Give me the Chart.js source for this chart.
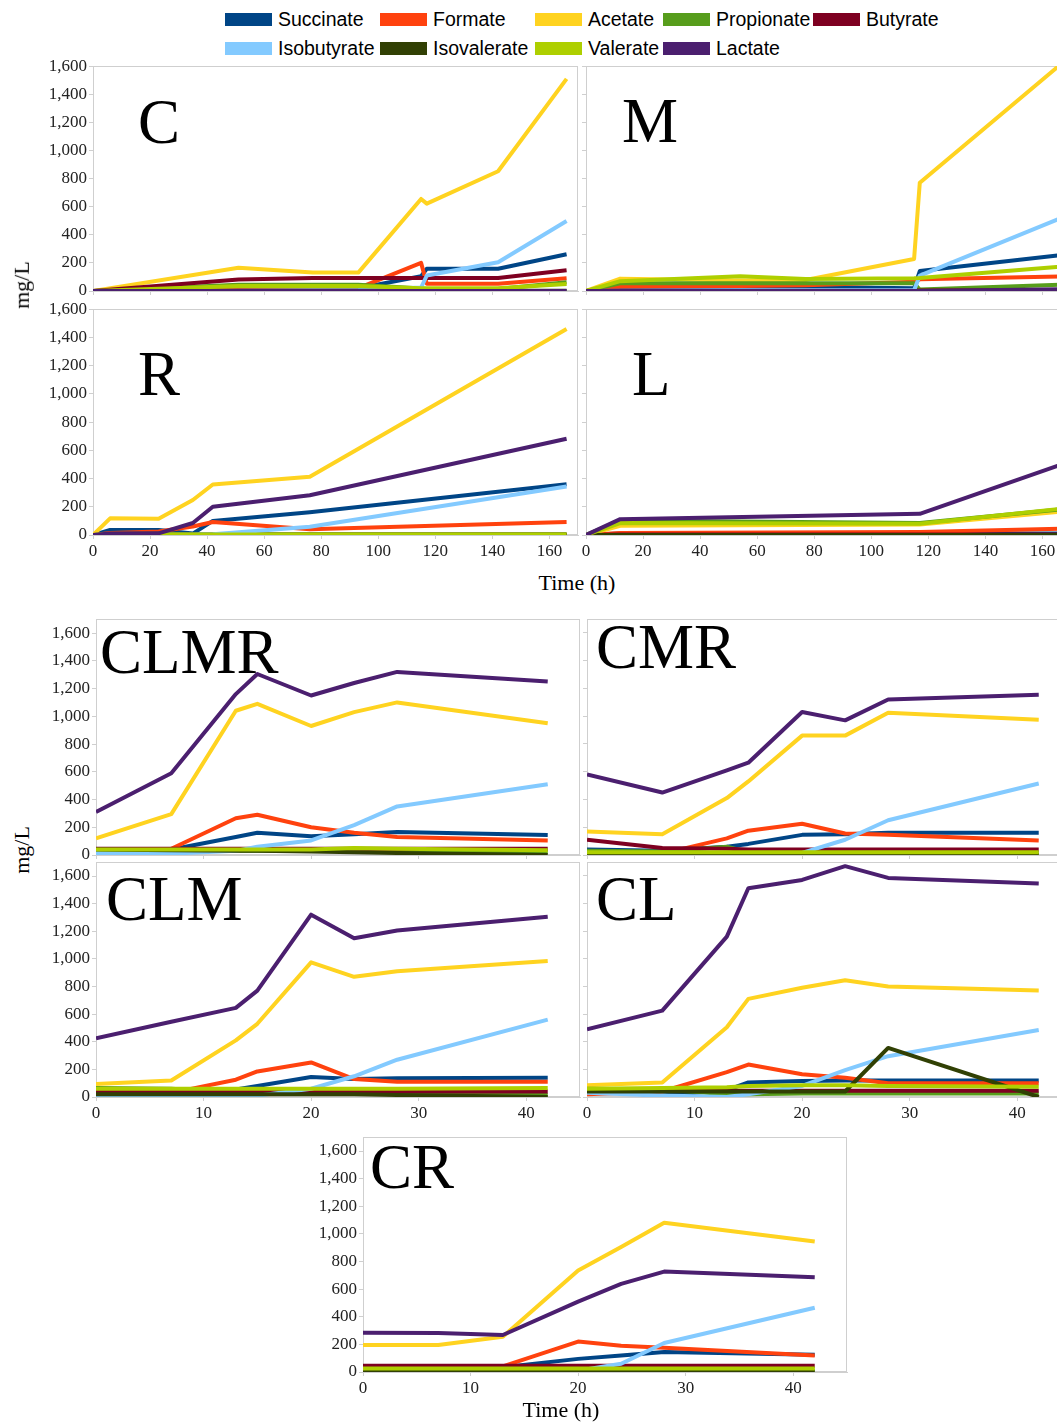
<!DOCTYPE html>
<html>
<head>
<meta charset="utf-8">
<script src="https://cdn.jsdelivr.net/npm/chart.js@4.4.1/dist/chart.umd.min.js"></script>
<style>
    html, body { margin: 0; padding: 0; background: #fff; }
    body { width: 1057px; height: 1423px; overflow: hidden; position: relative; }
    canvas { position: absolute; }
    .lbl { position: absolute; font-family: "Liberation Serif", "Times New Roman", serif; color: #000; white-space: nowrap; }
    .panel { font-size: 63px; line-height: 63px; }
    .axis { font-size: 22px; line-height: 22px; }
    .leg { position: absolute; font-family: "Liberation Sans", Arial, sans-serif; font-size: 19.5px; line-height: 20px; color: #000; white-space: nowrap; }
    .sw { position: absolute; width: 47px; height: 13px; }
</style>
</head>
<body>
<script>
// series, in LibreOffice legend order
const SERIES = ['Succinate', 'Formate', 'Acetate', 'Propionate', 'Butyrate',
                'Isobutyrate', 'Isovalerate', 'Valerate', 'Lactate'];
const COLORS = ['#004586', '#ff420e', '#ffd320', '#579d1c', '#7e0021',
                '#83caff', '#314004', '#aecf00', '#4b1f6f'];

// top group, time in h (0-170)
const C_TIME = [0, 51, 77, 93, 115, 117, 142, 166];
const C_VALUES = [
    [0, 15, 20, 20, 105, 158, 158, 262],
    [0, 10, 15, 20, 200, 52, 52, 90],
    [0, 166, 131, 131, 655, 622, 852, 1510],
    [0, 45, 45, 45, 18, 15, 15, 62],
    [0, 82, 92, 92, 92, 92, 92, 148],
    [0, 2, 5, 8, 25, 110, 205, 498],
    [0, 2, 2, 2, 2, 2, 2, 2],
    [0, 35, 35, 35, 20, 20, 20, 50],
    [0, 0, 0, 0, 0, 0, 0, 0]
];

const M_TIME = [0, 12, 54, 77, 115, 117, 166];
const M_VALUES = [
    [0, 28, 28, 28, 20, 142, 255],
    [0, 30, 35, 40, 66, 83, 103],
    [0, 88, 75, 78, 228, 770, 1605],
    [0, 55, 55, 55, 55, 10, 45],
    [0, 3, 3, 3, 3, 3, 5],
    [0, 2, 5, 5, 5, 110, 515],
    [0, 0, 0, 0, 0, 0, 0],
    [0, 70, 105, 85, 90, 92, 172],
    [0, 0, 0, 0, 0, 0, 12]
];

const R_TIME = [0, 6, 23, 35, 42, 76, 166];
const R_VALUES = [
    [0, 36, 36, 10, 100, 162, 360],
    [0, 15, 25, 60, 92, 40, 92],
    [0, 118, 115, 248, 358, 412, 1460],
    [0, 8, 8, 5, 5, 5, 5],
    [0, 2, 2, 2, 2, 2, 2],
    [0, 2, 2, 2, 5, 58, 343],
    [0, 0, 0, 0, 0, 0, 0],
    [0, 3, 3, 3, 3, 3, 3],
    [0, 10, 12, 85, 200, 282, 682]
];

const L_TIME = [0, 12, 117, 166];
const L_VALUES = [
    [0, 10, 10, 10],
    [0, 15, 22, 45],
    [0, 65, 75, 165],
    [0, 102, 85, 180],
    [0, 3, 3, 3],
    [0, 0, 0, 0],
    [0, 0, 0, 0],
    [0, 85, 80, 185],
    [0, 112, 150, 495]
];

// bottom group, time in h (0-45)
const CLMR_TIME = [0, 7, 13, 15, 20, 24, 28, 42];
const CLMR_VALUES = [
    [10, 40, 130, 160, 135, 150, 165, 145],
    [30, 45, 265, 290, 200, 160, 130, 105],
    [120, 295, 1040, 1090, 930, 1030, 1100, 950],
    [35, 30, 30, 30, 30, 30, 25, 20],
    [45, 45, 45, 45, 45, 45, 45, 45],
    [15, 10, 30, 60, 105, 215, 350, 510],
    [40, 35, 30, 30, 25, 20, 15, 0],
    [40, 40, 40, 40, 40, 50, 45, 35],
    [310, 590, 1160, 1305, 1150, 1240, 1320, 1250]
];

const CMR_TIME = [0, 7, 13, 15, 20, 24, 28, 42];
const CMR_VALUES = [
    [40, 30, 60, 80, 145, 150, 160, 160],
    [10, 10, 120, 175, 225, 155, 145, 105],
    [170, 150, 410, 530, 860, 860, 1025, 975],
    [30, 25, 60, 20, 20, 20, 20, 15],
    [110, 50, 45, 40, 40, 40, 40, 40],
    [5, 5, 5, 5, 15, 110, 250, 515],
    [15, 15, 15, 15, 15, 15, 10, 0],
    [20, 20, 20, 20, 20, 20, 20, 20],
    [580, 450, 610, 665, 1030, 970, 1120, 1155]
];

const CLM_TIME = [0, 7, 13, 15, 20, 24, 28, 42];
const CLM_VALUES = [
    [10, 10, 55, 80, 145, 130, 135, 140],
    [30, 30, 125, 185, 250, 130, 110, 110],
    [95, 120, 410, 530, 975, 870, 910, 985],
    [65, 60, 30, 25, 25, 25, 25, 15],
    [40, 40, 40, 40, 40, 40, 40, 40],
    [5, 5, 5, 10, 60, 150, 270, 560],
    [20, 20, 20, 20, 20, 20, 15, 0],
    [60, 60, 60, 60, 60, 60, 60, 65],
    [425, 545, 645, 770, 1320, 1150, 1205, 1305]
];

const CL_TIME = [0, 7, 13, 15, 20, 24, 28, 42];
const CL_VALUES = [
    [50, 10, 50, 105, 115, 120, 120, 120],
    [20, 40, 180, 235, 165, 140, 100, 100],
    [85, 105, 505, 710, 790, 845, 800, 770],
    [60, 55, 20, 20, 25, 25, 25, 25],
    [55, 50, 45, 45, 45, 45, 45, 45],
    [30, 10, 0, 20, 80, 195, 295, 485],
    [40, 40, 40, 40, 40, 40, 355, 0],
    [60, 65, 70, 80, 85, 85, 80, 75],
    [490, 625, 1160, 1510, 1570, 1670, 1585, 1545]
];

const CR_TIME = [0, 7, 13, 20, 24, 28, 42];
const CR_VALUES = [
    [10, 10, 35, 95, 120, 145, 125],
    [20, 20, 40, 220, 190, 175, 120],
    [195, 195, 255, 735, 905, 1080, 945],
    [20, 20, 20, 20, 20, 20, 10],
    [45, 45, 45, 45, 45, 45, 45],
    [5, 5, 5, 10, 60, 210, 465],
    [10, 10, 10, 10, 10, 10, 0],
    [25, 25, 25, 25, 25, 25, 25],
    [285, 283, 268, 510, 638, 727, 686]
];

const TOP_AXES = { xmax: 170, xstep: 20, xlast: 160, ymax: 1600, ylast: 1600 };
const BOTTOM_AXES = { xmax: 45, xstep: 10, xlast: 40, ymax: 1700, ylast: 1600 };

const FRAME = '#cfcfcf';
const TICK_FONT = { family: "'Liberation Serif', 'Times New Roman', serif", size: 17 };
const PAD_TOP = 12, PAD_RIGHT = 8;

const framePlugin = {
    id: 'frame',
    beforeDatasetsDraw(chart) {
        const { ctx, chartArea: a } = chart;
        ctx.save();
        ctx.strokeStyle = FRAME;
        ctx.lineWidth = 1;
        ctx.strokeRect(Math.round(a.left) + 0.5, Math.round(a.top) + 0.5,
            Math.round(a.right - a.left) - 1, Math.round(a.bottom - a.top) - 1);
        ctx.restore();
    }
};

function addText(cls, text, left, top) {
    const d = document.createElement('div');
    d.className = 'lbl ' + cls;
    d.textContent = text;
    d.style.left = left + 'px';
    d.style.top = top + 'px';
    document.body.appendChild(d);
    return d;
}

function makePanel(name, time, values, box, axes, showX, showY, labelPos) {
    const yw = showY ? 62 : 8;
    const xh = showX ? 32 : 14;
    const canvas = document.createElement('canvas');
    const w = yw + (box.r - box.l) + PAD_RIGHT;
    const h = PAD_TOP + (box.b - box.t) + xh;
    canvas.width = w;
    canvas.height = h;
    canvas.style.width = w + 'px';
    canvas.style.height = h + 'px';
    canvas.style.left = (box.l - yw) + 'px';
    canvas.style.top = (box.t - PAD_TOP) + 'px';
    document.body.appendChild(canvas);

    const datasets = SERIES.map((s, i) => ({
        label: s,
        data: time.map((t, k) => ({ x: t, y: values[i][k] })),
        borderColor: COLORS[i],
        backgroundColor: COLORS[i],
        borderWidth: 4,
        borderJoinStyle: 'round',
        pointRadius: 0,
        tension: 0,
        fill: false,
        order: SERIES.length - i
    }));

    const grid = { display: true, drawOnChartArea: false, drawTicks: true, tickLength: 4, color: FRAME };

    new Chart(canvas, {
        type: 'line',
        data: { datasets },
        options: {
            responsive: false,
            animation: false,
            events: [],
            layout: { padding: { top: PAD_TOP, right: PAD_RIGHT, left: 0, bottom: 0 } },
            plugins: { legend: { display: false }, tooltip: { enabled: false } },
            scales: {
                x: {
                    type: 'linear', min: 0, max: axes.xmax,
                    afterBuildTicks: s => { s.ticks = s.ticks.filter(t => t.value <= axes.xlast); },
                    afterFit: s => { s.height = xh; },
                    ticks: { stepSize: axes.xstep, includeBounds: false, display: showX, font: TICK_FONT, color: '#222',
                             padding: 2, maxRotation: 0, autoSkip: false },
                    grid, border: { display: true, color: FRAME }
                },
                y: {
                    min: 0, max: axes.ymax,
                    afterBuildTicks: s => { s.ticks = s.ticks.filter(t => t.value <= axes.ylast); },
                    afterFit: s => { s.width = yw; },
                    ticks: { stepSize: 200, includeBounds: false, display: showY, font: TICK_FONT, color: '#222', padding: 2,
                             callback: v => v.toLocaleString('en-US') },
                    grid, border: { display: true, color: FRAME }
                }
            }
        },
        plugins: [framePlugin]
    });

    addText('panel', name, labelPos[0], labelPos[1]);
}

// legend
const LEG_COLS = [225, 380, 535, 663, 813];
const LEG_ROWS = [19, 48];
SERIES.forEach((s, i) => {
    const row = i < 5 ? 0 : 1;
    const col = i < 5 ? i : i - 5;
    const x = LEG_COLS[col], yc = LEG_ROWS[row];
    const sw = document.createElement('div');
    sw.className = 'sw';
    sw.style.background = COLORS[i];
    sw.style.left = x + 'px';
    sw.style.top = (yc - 6) + 'px';
    document.body.appendChild(sw);
    const t = document.createElement('div');
    t.className = 'leg';
    t.textContent = s;
    t.style.left = (x + 53) + 'px';
    t.style.top = (yc - 10) + 'px';
    document.body.appendChild(t);
});

makePanel('C', C_TIME, C_VALUES, { l: 93, t: 66, r: 578, b: 291 }, TOP_AXES, false, true, [138, 91]);
makePanel('M', M_TIME, M_VALUES, { l: 586, t: 66, r: 1071, b: 291 }, TOP_AXES, false, false, [622, 90]);
makePanel('R', R_TIME, R_VALUES, { l: 93, t: 309, r: 578, b: 535 }, TOP_AXES, true, true, [138, 343]);
makePanel('L', L_TIME, L_VALUES, { l: 586, t: 309, r: 1071, b: 535 }, TOP_AXES, true, false, [632, 343]);

makePanel('CLMR', CLMR_TIME, CLMR_VALUES, { l: 96, t: 619, r: 580, b: 855 }, BOTTOM_AXES, false, true, [100, 621]);
makePanel('CMR', CMR_TIME, CMR_VALUES, { l: 587, t: 619, r: 1071, b: 855 }, BOTTOM_AXES, false, false, [596, 616]);
makePanel('CLM', CLM_TIME, CLM_VALUES, { l: 96, t: 862, r: 580, b: 1097 }, BOTTOM_AXES, true, true, [106, 868]);
makePanel('CL', CL_TIME, CL_VALUES, { l: 587, t: 862, r: 1071, b: 1097 }, BOTTOM_AXES, true, false, [596, 868]);
makePanel('CR', CR_TIME, CR_VALUES, { l: 363, t: 1137, r: 847, b: 1372 }, BOTTOM_AXES, true, true, [370, 1136]);

// axis titles
function centred(text, cx, cy, rotate) {
    const d = addText('axis', text, 0, 0);
    const r = d.getBoundingClientRect();
    d.style.left = (cx - r.width / 2) + 'px';
    d.style.top = (cy - r.height / 2) + 'px';
    if (rotate) d.style.transform = 'rotate(-90deg)';
}
centred('mg/L', 22, 285, true);
centred('mg/L', 22, 850, true);
centred('Time (h)', 577, 583, false);
centred('Time (h)', 561, 1410, false);
</script>
</body>
</html>
